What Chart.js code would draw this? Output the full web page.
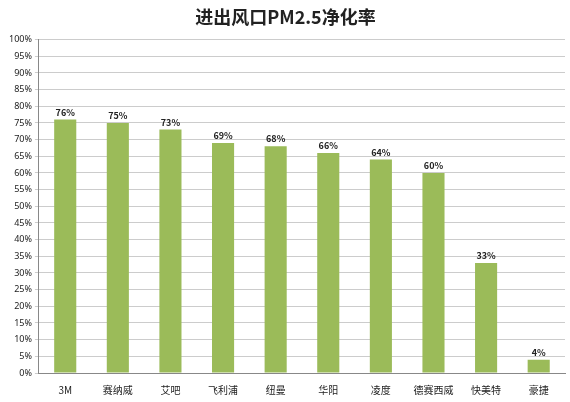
<!DOCTYPE html>
<html><head><meta charset="utf-8">
<script src="https://cdn.jsdelivr.net/npm/chart.js@4"></script>
<style>html,body{margin:0;padding:0;background:#fff}#wrap{width:570px;height:402px}</style>
</head><body><div id="wrap"><canvas id="c"></canvas></div>
<script>
const categories = ['3M','赛纳威','艾吧','飞利浦','纽曼','华阳','凌度','德赛西威','快美特','豪捷'];
const rates = [76,75,73,69,68,66,64,60,33,4];

const labelPlugin = {
  id: 'valueLabels',
  afterDatasetsDraw(chart) {
    const ctx = chart.ctx;
    ctx.save();
    ctx.font = 'bold 9px "Noto Sans CJK SC", sans-serif';
    ctx.fillStyle = '#222';
    ctx.textAlign = 'center';
    ctx.textBaseline = 'bottom';
    chart.getDatasetMeta(0).data.forEach((bar, i) => {
      ctx.fillText(rates[i] + '%', bar.x, bar.y - 3);
    });
    ctx.restore();
  }
};

new Chart(document.getElementById('c'), {
  type: 'bar',
  data: { labels: categories, datasets: [{ data: rates, backgroundColor: '#9BBB59', barPercentage: 0.42, categoryPercentage: 1 }] },
  options: {
    responsive: true, maintainAspectRatio: false, animation: false,
    layout: { padding: { top: 2, right: 5, left: 6, bottom: 3 } },
    plugins: {
      legend: { display: false }, tooltip: { enabled: false },
      title: { display: true, text: '进出风口PM2.5净化率', color: '#222',
        font: { size: 18, weight: 'bold', family: '"Noto Sans CJK SC", sans-serif' }, padding: { top: 4, bottom: 12 } }
    },
    scales: {
      x: { grid: { display: false }, border: { color: '#888' },
        ticks: { color: '#222', font: { size: 10, family: '"Noto Sans CJK SC", sans-serif' }, maxRotation: 0, autoSkip: false } },
      y: { min: 0, max: 100, border: { color: '#888' },
        grid: { color: '#ccc', tickLength: 4 },
        ticks: { stepSize: 5, color: '#222', font: { size: 9, family: '"Noto Sans", sans-serif' }, callback: v => v + '%', autoSkip: false } }
    }
  },
  plugins: [labelPlugin]
});
</script></body></html>
